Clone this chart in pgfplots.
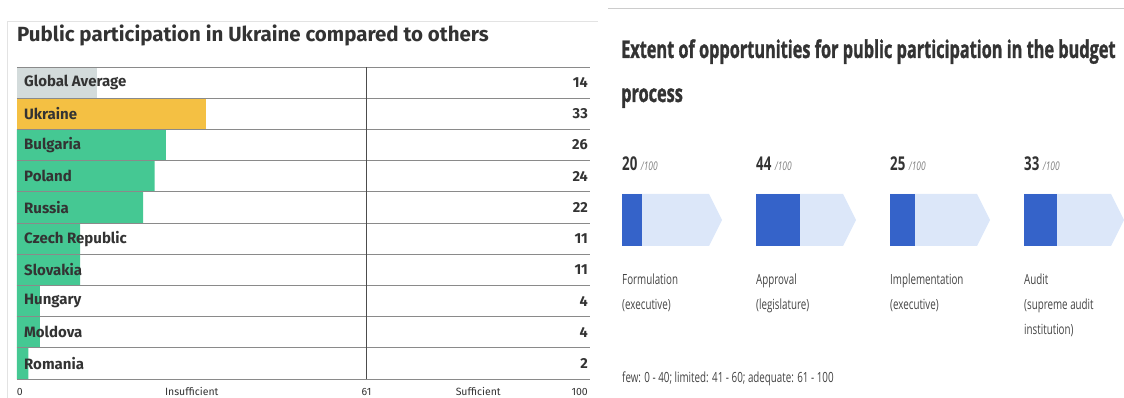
\documentclass[border=0pt]{standalone}
\usepackage{pgfplots}
\pgfplotsset{compat=1.18}
\usepackage{fontspec}
\setmainfont{Fira Sans}
\newfontfamily\condfont{Open Sans}[FakeStretch=0.7]
\newfontfamily\condtitle{Open Sans}[FakeStretch=0.665, FakeBold=1.2]
\definecolor{txt}{HTML}{333333}
\definecolor{gavg}{HTML}{D3DBDB}
\definecolor{ukr}{HTML}{F4C043}
\definecolor{grn}{HTML}{45C893}
\definecolor{dblue}{HTML}{3563C9}
\definecolor{lblue}{HTML}{DCE7F9}
\definecolor{rtxt}{HTML}{444444}
\definecolor{sepc}{HTML}{8A8A8A}
\begin{document}
\begin{tikzpicture}[x=1pt,y=1pt]
\path[use as bounding box] (0,0) rectangle (1124,398);
% card borders
\draw[gray!22, line width=1pt] (7.5,0) -- (7.5,376) -- (598,376);
\draw[gray!40, line width=1pt] (608,389) -- (1124,389);
% left title
\node[anchor=base west, inner sep=0, text=txt, font=\fontsize{20.5}{22}\selectfont\bfseries] at (17,356) {Public participation in Ukraine compared to others};

\begin{axis}[
  scale only axis, width=573pt, height=312pt,
  at={(17pt,19pt)}, anchor=south west,
  xmin=0, xmax=100, ymin=-0.5, ymax=9.5, y dir=reverse,
  axis line style={draw=none}, major tick length=0pt,
  clip=false,
  ytick=\empty,
  xtick={0.5,30.5,61,80.5,98.2},
  xticklabels={0,Insufficient,61,Sufficient,100},
  xticklabel style={anchor=base, inner sep=0pt, yshift=-16pt, text=txt, font=\fontsize{10.5}{12}\selectfont},
]
\addplot[xbar, bar width=31.2pt, bar shift=0pt, fill=gavg, draw=none] coordinates {(14,0)};
\addplot[xbar, bar width=31.2pt, bar shift=0pt, fill=ukr, draw=none] coordinates {(33,1)};
\addplot[xbar, bar width=31.2pt, bar shift=0pt, fill=grn, draw=none] coordinates {(26,2) (24,3) (22,4) (11,5) (11,6) (4,7) (4,8) (2,9)};
\pgfplotsinvokeforeach{-0.5,0.5,1.5,2.5,3.5,4.5,5.5,6.5,7.5,8.5,9.5}{
  \draw[sepc, line width=0.8pt] (axis cs:0,#1) -- (axis cs:100,#1);
}
\draw[black!70, line width=0.6pt] (axis cs:61,-0.5) -- (axis cs:61,9.5);
% category names
\addplot[only marks, mark=none, nodes near coords, point meta=explicit symbolic,
  every node near coord/.append style={anchor=west, inner sep=0pt, xshift=7pt, text=txt, font=\fontsize{15}{17}\selectfont\bfseries}]
  table[meta=n, col sep=comma] {
x,y,n
0,0,Global Average
0,1,Ukraine
0,2,Bulgaria
0,3,Poland
0,4,Russia
0,5,Czech Republic
0,6,Slovakia
0,7,Hungary
0,8,Moldova
0,9,Romania
};
% values
\addplot[only marks, mark=none, nodes near coords, point meta=explicit symbolic,
  every node near coord/.append style={anchor=east, inner sep=0pt, xshift=-2pt, text=txt, font=\fontsize{14.5}{16}\selectfont\bfseries}]
  table[meta=v] {
x y v
100 0 14
100 1 33
100 2 26
100 3 24
100 4 22
100 5 11
100 6 11
100 7 4
100 8 4
100 9 2
};
\end{axis}

% right panel title
\node[anchor=base west, inner sep=0, text=txt, font=\condtitle\bfseries\fontsize{24.5}{26}\selectfont] at (621,340) {Extent of opportunities for public participation in the budget};
\node[anchor=base west, inner sep=0, text=txt, font=\condtitle\bfseries\fontsize{24.5}{26}\selectfont] at (621,296) {process};

% scores
\node[anchor=base west, inner sep=0, text=txt] at (622,227) {\condfont\bfseries\fontsize{19}{21}\selectfont 20\ \textcolor{gray}{\mdseries\itshape\fontsize{12}{14}\selectfont /100}};
\node[anchor=base west, inner sep=0, text=txt] at (756,227) {\condfont\bfseries\fontsize{19}{21}\selectfont 44\ \textcolor{gray}{\mdseries\itshape\fontsize{12}{14}\selectfont /100}};
\node[anchor=base west, inner sep=0, text=txt] at (890,227) {\condfont\bfseries\fontsize{19}{21}\selectfont 25\ \textcolor{gray}{\mdseries\itshape\fontsize{12}{14}\selectfont /100}};
\node[anchor=base west, inner sep=0, text=txt] at (1024,227) {\condfont\bfseries\fontsize{19}{21}\selectfont 33\ \textcolor{gray}{\mdseries\itshape\fontsize{12}{14}\selectfont /100}};

% stage bars
\begin{axis}[at={(622pt,152pt)}, anchor=south west, scale only axis, width=100pt, height=52pt, xmin=0, xmax=100, ymin=0, ymax=1, hide axis, clip=false]
\fill[lblue] (axis cs:0,0) -- (axis cs:87,0) -- (axis cs:100,0.5) -- (axis cs:87,1) -- (axis cs:0,1) -- cycle;
\addplot[xbar, bar width=52pt, bar shift=0pt, fill=dblue, draw=none] coordinates {(20,0.5)};
\end{axis}
\begin{axis}[at={(756pt,152pt)}, anchor=south west, scale only axis, width=100pt, height=52pt, xmin=0, xmax=100, ymin=0, ymax=1, hide axis, clip=false]
\fill[lblue] (axis cs:0,0) -- (axis cs:87,0) -- (axis cs:100,0.5) -- (axis cs:87,1) -- (axis cs:0,1) -- cycle;
\addplot[xbar, bar width=52pt, bar shift=0pt, fill=dblue, draw=none] coordinates {(44,0.5)};
\end{axis}
\begin{axis}[at={(890pt,152pt)}, anchor=south west, scale only axis, width=100pt, height=52pt, xmin=0, xmax=100, ymin=0, ymax=1, hide axis, clip=false]
\fill[lblue] (axis cs:0,0) -- (axis cs:87,0) -- (axis cs:100,0.5) -- (axis cs:87,1) -- (axis cs:0,1) -- cycle;
\addplot[xbar, bar width=52pt, bar shift=0pt, fill=dblue, draw=none] coordinates {(25,0.5)};
\end{axis}
\begin{axis}[at={(1024pt,152pt)}, anchor=south west, scale only axis, width=100pt, height=52pt, xmin=0, xmax=100, ymin=0, ymax=1, hide axis, clip=false]
\fill[lblue] (axis cs:0,0) -- (axis cs:87,0) -- (axis cs:100,0.5) -- (axis cs:87,1) -- (axis cs:0,1) -- cycle;
\addplot[xbar, bar width=52pt, bar shift=0pt, fill=dblue, draw=none] coordinates {(33,0.5)};
\end{axis}

% stage labels
\begin{scope}[every node/.style={anchor=base west, inner sep=0, text=rtxt, font=\condfont\fontsize{14}{16}\selectfont}]
\node at (622,113) {Formulation};
\node at (622,88) {(executive)};
\node at (756,113) {Approval};
\node at (756,88) {(legislature)};
\node at (890,113) {Implementation};
\node at (890,88) {(executive)};
\node at (1024,113) {Audit};
\node at (1024,88) {(supreme audit};
\node at (1024,63) {institution)};
\node at (622,15) {few: 0 - 40; limited: 41 - 60; adequate: 61 - 100};
\end{scope}
\end{tikzpicture}
\end{document}
